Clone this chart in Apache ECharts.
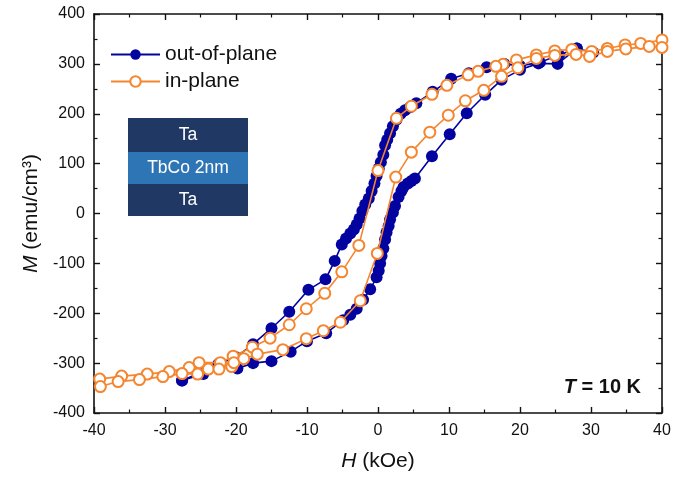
<!DOCTYPE html>
<html>
<head>
<meta charset="utf-8">
<script src="https://cdn.jsdelivr.net/npm/echarts@6/dist/echarts.min.js"></script>
<style>html,body{margin:0;padding:0;background:#fff}#c{width:676px;height:481px}</style>
</head>
<body>
<div id="c"></div>
<script>
// Out-of-plane loop: descending branch (+H -> -H), then ascending branch (-H -> +H)
const outOfPlaneDown = [[30.3,323],[28,331],[25.5,318],[22.8,303],[20,296],[17.8,300],[15.3,293],[12.8,281],[10.3,270],[7.7,244],[5.4,221],[4.5,213],[3.8,207],[3.2,200],[2.6,188],[2.1,175],[1.7,161],[1.3,148],[1.0,137],[0.75,118],[0.4,103],[0.1,90],[-0.2,75],[-0.5,60],[-0.9,45],[-1.3,30],[-1.8,18],[-2.2,5],[-2.6,-10],[-3.0,-22],[-3.4,-32],[-3.9,-40],[-4.5,-50],[-5.1,-62],[-6.1,-95],[-7.4,-132],[-9.8,-153],[-12.5,-197],[-15,-230],[-17.6,-262],[-20,-288],[-22.5,-302],[-25,-319],[-27.6,-335]];
const outOfPlaneUp = [[-27.6,-335],[-24.6,-322],[-22.3,-300],[-19.8,-311],[-17.6,-300],[-15,-296],[-12.3,-277],[-10,-256],[-7.3,-240],[-4.9,-214],[-3.9,-203],[-3,-191],[-2.1,-173],[-1.1,-152],[-0.2,-128],[0.1,-115],[0.3,-100],[0.5,-85],[0.75,-70],[1.0,-52],[1.2,-38],[1.5,-25],[1.7,-12],[2.1,2],[2.4,15],[2.9,33],[3.3,45],[3.6,53],[4.2,60],[4.7,65],[5.2,70],[7.6,115],[10.1,159],[12.5,201],[15.1,238],[17.4,268],[20,288],[22.6,301],[25.3,300],[28,331]];
// In-plane loop
const inPlaneDown = [[40,348],[37,341],[34.8,338],[32.3,331],[30.1,325],[27.3,329],[24.9,326],[22.3,318],[19.5,308],[17.6,299],[16.6,295],[14.1,285],[12.7,278],[9.7,257],[7.6,239],[4.7,215],[2.6,191],[0,86],[-2.7,-64],[-5.1,-117],[-7.5,-160],[-10.1,-191],[-12.5,-223],[-15.2,-250],[-17.7,-268],[-20.4,-286],[-22.2,-299],[-25.2,-299],[-26.6,-309],[-29.4,-317],[-32.5,-322],[-36.1,-326],[-39.2,-332]];
const inPlaneUp = [[-39.1,-347],[-36.6,-337],[-33.6,-333],[-30.3,-327],[-27.6,-321],[-25.4,-322],[-23.9,-312],[-22.4,-312],[-20.6,-307],[-20.3,-299],[-18.9,-291],[-17,-282],[-13.4,-273],[-10.1,-251],[-7.7,-235],[-5.3,-218],[-2.5,-175],[-0.1,-80],[2.5,73],[4.7,123],[7.3,163],[9.9,197],[12.3,226],[14.9,247],[17.4,275],[19.7,292],[22.3,311],[24.9,317],[27.9,319],[29.8,315],[32.3,325],[34.9,330],[38.2,335],[40,333]];

const seriesNames = ['out-of-plane', 'in-plane'];
const xTicks = {min: -40, max: 40, interval: 10};
const yTicks = {min: -400, max: 400, interval: 100};
const inset = ['Ta', 'TbCo 2nm', 'Ta'];

const BLUE = '#0303a0';
const ORANGE = '#f5862f';
const AX = '#111';
const FF = '"Liberation Sans", Arial, sans-serif';

function frameAxis(extra) {
  return Object.assign({
    type: 'value',
    axisLine: {show: true, onZero: false, lineStyle: {color: AX, width: 1.6}},
    axisTick: {show: true, inside: true, length: 6, lineStyle: {color: AX, width: 1.4}},
    minorTick: {show: true, splitNumber: 2, length: 3.5, lineStyle: {color: AX, width: 1.2}},
    splitLine: {show: false},
  }, extra);
}

const chart = echarts.init(document.getElementById('c'));
chart.setOption({
  animation: false,
  backgroundColor: '#fff',
  grid: {left: 94, right: 14, top: 14, bottom: 68},
  legend: {
    data: seriesNames,
    orient: 'vertical',
    left: 105, top: 39,
    itemWidth: 49, itemHeight: 13, itemGap: 6,
    textStyle: {fontFamily: FF, fontSize: 21, color: '#111'}
  },
  xAxis: [
    frameAxis({position: 'bottom', min: xTicks.min, max: xTicks.max, interval: xTicks.interval,
      axisLabel: {color: '#111', fontFamily: FF, fontSize: 16, margin: 10},
      name: '{i|H} (kOe)', nameLocation: 'middle', nameGap: 38,
      nameTextStyle: {fontFamily: FF, fontSize: 21, color: '#111',
        rich: {i: {fontStyle: 'italic', fontFamily: FF, fontSize: 21, color: '#111'}}}}),
    frameAxis({position: 'top', min: xTicks.min, max: xTicks.max, interval: xTicks.interval, axisLabel: {show: false}})
  ],
  yAxis: [
    frameAxis({position: 'left', min: yTicks.min, max: yTicks.max, interval: yTicks.interval,
      axisLabel: {color: '#111', fontFamily: FF, fontSize: 16, margin: 9},
      name: '{i|M} (emu/cm³)', nameLocation: 'middle', nameGap: 48,
      nameTextStyle: {fontFamily: FF, fontSize: 21, color: '#111',
        rich: {i: {fontStyle: 'italic', fontFamily: FF, fontSize: 21, color: '#111'}}}}),
    frameAxis({position: 'right', min: yTicks.min, max: yTicks.max, interval: yTicks.interval, axisLabel: {show: false}})
  ],
  series: [
    {
      name: seriesNames[0], type: 'line',
      data: outOfPlaneDown.concat(outOfPlaneUp),
      symbol: 'circle', symbolSize: 12, showAllSymbol: true,
      lineStyle: {color: BLUE, width: 1.6},
      itemStyle: {color: BLUE, borderColor: BLUE, borderWidth: 0},
      z: 2
    },
    {
      name: seriesNames[1], type: 'line',
      data: inPlaneDown.concat(inPlaneUp),
      symbol: 'circle', symbolSize: 11, showAllSymbol: true,
      lineStyle: {color: ORANGE, width: 1.6},
      itemStyle: {color: '#fff', borderColor: ORANGE, borderWidth: 2},
      z: 3
    }
  ],
  graphic: [
    {type: 'rect', shape: {x: 128, y: 118, width: 120, height: 34}, style: {fill: '#203864'}},
    {type: 'rect', shape: {x: 128, y: 152, width: 120, height: 32}, style: {fill: '#2e75b6'}},
    {type: 'rect', shape: {x: 128, y: 184, width: 120, height: 32}, style: {fill: '#203864'}},
    {type: 'text', x: 188, y: 135, style: {text: inset[0], fill: '#fff', font: '17.5px ' + FF, textAlign: 'center', textVerticalAlign: 'middle'}},
    {type: 'text', x: 188, y: 168, style: {text: inset[1], fill: '#fff', font: '17.5px ' + FF, textAlign: 'center', textVerticalAlign: 'middle'}},
    {type: 'text', x: 188, y: 200, style: {text: inset[2], fill: '#fff', font: '17.5px ' + FF, textAlign: 'center', textVerticalAlign: 'middle'}},
    {type: 'text', x: 641, y: 387, style: {
      text: '{i|T} = 10 K', textAlign: 'right', textVerticalAlign: 'middle',
      font: 'bold 20px ' + FF, fill: '#111',
      rich: {i: {fontStyle: 'italic', fontWeight: 'bold', fontSize: 20, fontFamily: FF, fill: '#111'}}
    }}
  ]
});
</script>
</body>
</html>
